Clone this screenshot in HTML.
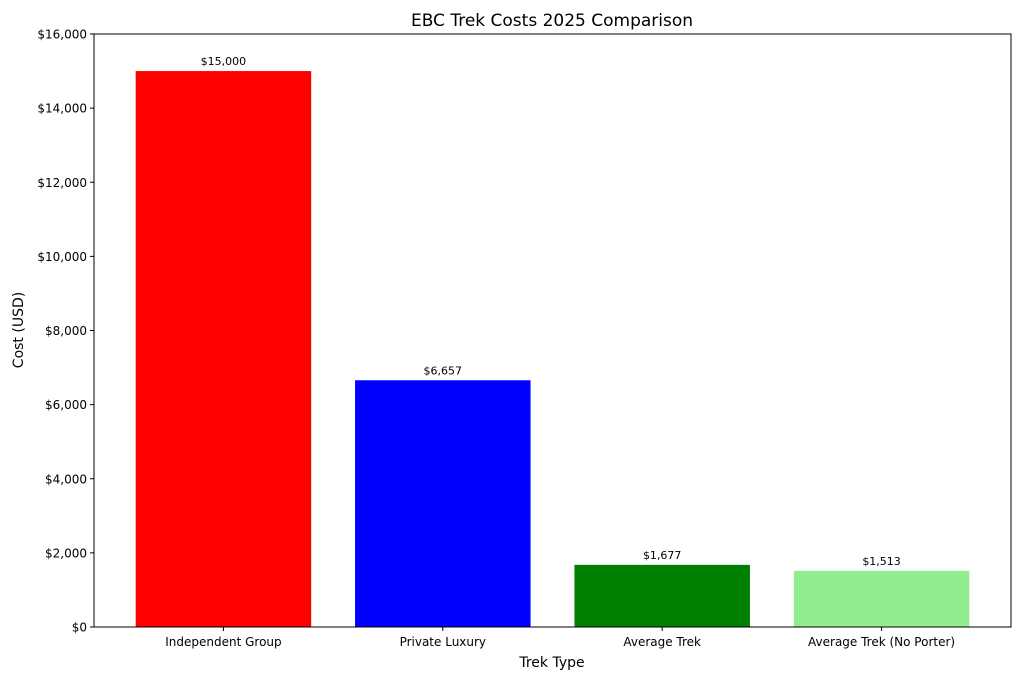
<!DOCTYPE html>
<html><head><meta charset="utf-8"><style>
body{margin:0;background:#fff;}
svg{display:block;font-family:"DejaVu Sans","Liberation Sans",sans-serif;}
</style></head><body>
<svg id="chart" width="1024" height="683" viewBox="0 0 1024 683">
<text x="552" y="26" text-anchor="middle" font-size="17">EBC Trek Costs 2025 Comparison</text>
<g id="yticks"></g>
<g id="bars"></g>
<g id="xticks"></g>
<rect x="94" y="34" width="917" height="593" fill="none" stroke="#000" stroke-width="1"/>
<text x="552" y="667" text-anchor="middle" font-size="14">Trek Type</text>
<text transform="translate(23,330) rotate(-90)" text-anchor="middle" font-size="14">Cost (USD)</text>
</svg>
<script>
const categories=["Independent Group","Private Luxury","Average Trek","Average Trek (No Porter)"];
const values=[15000,6657,1677,1513];
const colors=["#ff0000","#0000ff","#008000","#90ee90"];
const yTicks=[0,2000,4000,6000,8000,10000,12000,14000,16000];
const NS="http://www.w3.org/2000/svg";
const L=94,R=1011,T=34,B=627,yMax=16000,xMin=-0.59,xMax=3.59;
const y=v=>B-(v/yMax)*(B-T);
const x=i=>L+(i-xMin)/(xMax-xMin)*(R-L);
const bw=0.8*(R-L)/(xMax-xMin);
const fmt=v=>"$"+v.toLocaleString("en-US");
function mk(tag,attrs,parent,text){const e=document.createElementNS(NS,tag);for(const k in attrs)e.setAttribute(k,attrs[k]);if(text!==undefined)e.textContent=text;parent.appendChild(e);return e;}
const yg=document.getElementById("yticks"),bg=document.getElementById("bars"),xg=document.getElementById("xticks");
yTicks.forEach(t=>{
 const l=mk("line",{x1:L-4,x2:L,y1:y(t),y2:y(t),stroke:"#000"},yg);
 
 
 const tx=mk("text",{x:L-7,y:y(t)+4.5,"text-anchor":"end","font-size":"12"},yg,fmt(t));
 
 
});
categories.forEach((c,i)=>{
 const r=mk("rect",{x:x(i)-bw/2,y:y(values[i]),width:bw,height:B-y(values[i]),fill:colors[i]},bg);
 
 
 const v=mk("text",{x:x(i),y:y(values[i])-6,"text-anchor":"middle","font-size":"11"},bg,fmt(values[i]));
 
 
 const tk=mk("line",{x1:x(i),x2:x(i),y1:B,y2:B+4,stroke:"#000"},xg);
 
 
 const lb=mk("text",{x:x(i),y:B+19,"text-anchor":"middle","font-size":"12"},xg,c);
 
 
});
</script>
</body></html>
